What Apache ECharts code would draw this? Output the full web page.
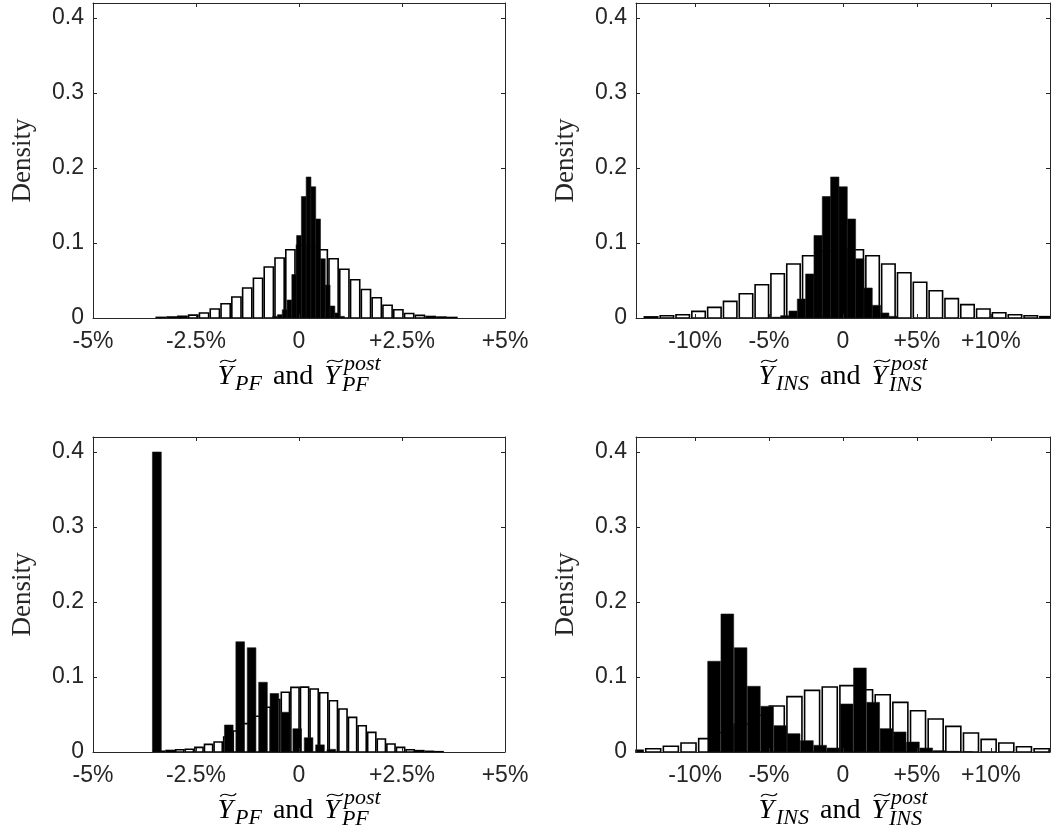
<!DOCTYPE html>
<html><head><meta charset="utf-8">
<script src="https://cdn.jsdelivr.net/npm/echarts@6/dist/echarts.min.js"></script>
<style>html,body{margin:0;padding:0;background:#fff}#c{width:1051px;height:833px}</style>
</head><body><div id="c"></div>
<script>
// ---------- tick labels ----------
const pfTickVals = [-5, -2.5, 0, 2.5, 5];
const pfTickLabels = ['-5%', '-2.5%', '0', '+2.5%', '+5%'];
const insTickVals = [-10, -5, 0, 5, 10];
const insTickLabels = ['-10%', '-5%', '0', '+5%', '+10%'];
const densityTickVals = [0, 0.1, 0.2, 0.3, 0.4];
const densityTickLabels = ['0', '0.1', '0.2', '0.3', '0.4'];
const pfRange = [-5, 5];
const insRange = [-14, 14];
const densityMax = 0.42;

// ---------- histogram data (bin start = first bin centre in %, bin width in %) ----------
// top-left: Y_PF (white) and Y_PF^post (black)
const tlWhiteStart = -3.353, tlWhiteStep = 0.262;
const tlWhite = [0.0008,0.0013,0.0022,0.0038,0.0067,0.012,0.019,0.028,0.040,0.053,0.068,0.080,0.091,0.097,0.096,0.091,0.079,0.065,0.051,0.038,0.027,0.017,0.011,0.006,0.0035,0.002,0.0012,0.0007];
const tlBlackStart = -0.58, tlBlackStep = 0.116;
const tlBlack = [0.0022,0.0044,0.011,0.024,0.058,0.110,0.162,0.188,0.175,0.132,0.079,0.044,0.016,0.0067,0.0022];

// top-right: Y_INS (white) and Y_INS^post (black)
const trWhiteStart = -12.98, trWhiteStep = 1.07;
const trWhite = [0.0015,0.003,0.0044,0.0089,0.0142,0.0222,0.0324,0.0444,0.0591,0.072,0.083,0.089,0.093,0.0911,0.083,0.072,0.0604,0.0476,0.0364,0.0258,0.0178,0.012,0.0071,0.0044,0.0031,0.0018];
const trBlackStart = -4.50, trBlackStep = 0.5635;
const trBlack = [0.001,0.0031,0.0093,0.0253,0.0587,0.110,0.162,0.188,0.175,0.132,0.079,0.040,0.0169,0.0067,0.0022];

// bottom-left
const blWhiteStart = -3.36, blWhiteStep = 0.233;
const blWhite = [0.001,0.002,0.003,0.0036,0.0062,0.0102,0.0133,0.020,0.028,0.0378,0.0476,0.0596,0.070,0.0796,0.0862,0.0865,0.084,0.079,0.0684,0.0573,0.0462,0.0351,0.0262,0.0173,0.0107,0.0062,0.0031,0.0018,0.0009,0.0004];
const blBlackStart = -1.704, blBlackStep = 0.2767;
const blBlack = [0.036,0.147,0.139,0.093,0.078,0.053,0.031,0.019,0.0095,0.0036,0.001];
const blSpikeStart = -3.45, blSpikeStep = 0.24;
const blSpike = [0.40];

// bottom-right
const brWhiteStart = -14.03, brWhiteStep = 1.194;
const brWhite = [0.0022,0.0044,0.0076,0.012,0.0178,0.026,0.037,0.049,0.0613,0.0738,0.0822,0.0867,0.0885,0.0831,0.0764,0.0662,0.0551,0.044,0.0342,0.0253,0.0169,0.012,0.0071,0.0044];
const brBlackStart = -8.72, brBlackStep = 0.8967;
const brBlack = [0.121,0.184,0.139,0.0876,0.0609,0.0351,0.0244,0.0151,0.0089,0.0053,0.064,0.112,0.0662,0.0311,0.0267,0.0133,0.0053,0.0018,0.0009,0.0004];

// ---------- layout ----------
const AX = '#262626';
const SANS = '"Liberation Sans", Arial, Helvetica, sans-serif';
const SERIF = '"Liberation Serif", "Times New Roman", serif';
const layout = [
  {left: 93, top: 3, width: 412, height: 315},
  {left: 636, top: 3, width: 414, height: 315},
  {left: 93, top: 437, width: 412, height: 315},
  {left: 636, top: 437, width: 414, height: 315}
];
const panels = [
  {range: pfRange, ticks: pfTickVals, labels: pfTickLabels, sub: 'PF',
   sets: [[tlWhiteStart, tlWhiteStep, tlWhite, 'w'], [tlBlackStart, tlBlackStep, tlBlack, 'b', 1.0]]},
  {range: insRange, ticks: insTickVals, labels: insTickLabels, sub: 'INS',
   sets: [[trWhiteStart, trWhiteStep, trWhite, 'w'], [trBlackStart, trBlackStep, trBlack, 'b', 1.0]]},
  {range: pfRange, ticks: pfTickVals, labels: pfTickLabels, sub: 'PF',
   sets: [[blWhiteStart, blWhiteStep, blWhite, 'w'], [blBlackStart, blBlackStep, blBlack, 'b', 0.76], [blSpikeStart, blSpikeStep, blSpike, 'b', 0.9]]},
  {range: insRange, ticks: insTickVals, labels: insTickLabels, sub: 'INS',
   sets: [[brWhiteStart, brWhiteStep, brWhite, 'w'], [brBlackStart, brBlackStep, brBlack, 'b', 0.96]]}
];

function fmt(vals, labels) {
  return function (v) {
    const i = vals.findIndex(t => Math.abs(t - v) < 1e-9);
    return i < 0 ? '' : labels[i];
  };
}

function binSeries(gi, start, step, vals, kind, frac) {
  const white = kind === 'w';
  const f = white ? 0.85 : frac;
  return {
    type: 'custom', coordinateSystem: 'cartesian2d',
    xAxisIndex: gi * 2, yAxisIndex: gi * 2, z: white ? 2 : 3,
    silent: true, animation: false,
    data: vals.map((v, i) => [start + i * step, v]),
    renderItem: function (params, api) {
      const c = api.value(0), h = api.value(1);
      const a = api.coord([c - step * f / 2, h]);
      const b = api.coord([c + step * f / 2, 0]);
      const cs = params.coordSys;
      const r = echarts.graphic.clipRectByRect(
        {x: a[0], y: a[1], width: b[0] - a[0], height: b[1] - a[1]},
        {x: cs.x, y: cs.y, width: cs.width, height: cs.height});
      if (!r) return null;
      return {type: 'rect', shape: r,
        style: white ? {fill: '#fff', stroke: '#000', lineWidth: 1.6}
                     : {fill: '#000', stroke: '#1a1a1a', lineWidth: 0.6}};
    }
  };
}

function mathLabel(g, sub) {
  const cx = g.left + g.width / 2, base = g.top + g.height + 68;
  const BIG = 28, SM = 22;
  const fY = 'italic ' + BIG + 'px ' + SERIF, fR = BIG + 'px ' + SERIF, fS = 'italic ' + SM + 'px ' + SERIF;
  const ctx = document.createElement('canvas').getContext('2d');
  const mw = (t, f) => { ctx.font = f; return ctx.measureText(t).width; };
  const wY = mw('Y', fY) + 2;
  const wSub = mw(sub, fS), wSup = mw('post', fS) + 2, wAnd = mw('and', fR), gap = 11;
  const total = wY + wSub + gap + wAnd + gap + wY + Math.max(wSub, wSup);
  let x = cx - total / 2;
  const els = [];
  const T = (t, f, size, xx, b) => ({type: 'text', x: xx, y: b - 0.34 * size, silent: true,
    style: {text: t, font: f, fill: '#000', align: 'left', verticalAlign: 'middle', textAlign: 'left', textVerticalAlign: 'middle'}});
  const tilde = (xc, yc, w) => ({type: 'bezierCurve', silent: true,
    shape: {x1: xc - w / 2, y1: yc + 1.5, x2: xc + w / 2, y2: yc - 1.5,
            cpx1: xc - w * 0.15, cpy1: yc - 5, cpx2: xc + w * 0.15, cpy2: yc + 5},
    style: {stroke: '#000', lineWidth: 1.3, fill: null}});
  els.push(T('Y', fY, BIG, x, base)); els.push(tilde(x + wY / 2 + 2, base - 25, 16));
  x += wY; els.push(T(sub, fS, SM, x, base + 6)); x += wSub + gap;
  els.push(T('and', fR, BIG, x, base)); x += wAnd + gap;
  els.push(T('Y', fY, BIG, x, base)); els.push(tilde(x + wY / 2 + 2, base - 25, 16));
  x += wY; els.push(T('post', fS, SM, x + 2, base - 14)); els.push(T(sub, fS, SM, x, base + 7));
  return els;
}

const option = {animation: false, grid: [], xAxis: [], yAxis: [], series: [], graphic: {elements: []}};
panels.forEach((p, i) => {
  const g = layout[i];
  option.grid.push({left: g.left, top: g.top, width: g.width, height: g.height, containLabel: false});
  ['bottom', 'top'].forEach(pos => {
    option.xAxis.push({gridIndex: i, type: 'value', min: p.range[0], max: p.range[1], position: pos, z: 10,
      axisLine: {show: true, onZero: false, lineStyle: {color: AX, width: 1}},
      axisTick: {show: true, inside: true, length: 4, customValues: p.ticks, lineStyle: {color: AX}},
      axisLabel: {show: pos === 'bottom', customValues: p.ticks, formatter: fmt(p.ticks, p.labels),
        color: AX, fontSize: 23, fontFamily: SANS, margin: 12},
      splitLine: {show: false}});
  });
  ['left', 'right'].forEach(pos => {
    option.yAxis.push({gridIndex: i, type: 'value', min: 0, max: densityMax, position: pos, z: 10,
      name: pos === 'left' ? 'Density' : '', nameLocation: 'middle', nameGap: 57,
      nameTextStyle: {fontFamily: SERIF, fontSize: 27, color: AX},
      axisLine: {show: true, onZero: false, lineStyle: {color: AX, width: 1}},
      axisTick: {show: true, inside: true, length: 4, customValues: densityTickVals, lineStyle: {color: AX}},
      axisLabel: {show: pos === 'left', customValues: densityTickVals, formatter: fmt(densityTickVals, densityTickLabels),
        color: AX, fontSize: 23, fontFamily: SANS, margin: 9},
      splitLine: {show: false}});
  });
  p.sets.forEach(s => option.series.push(binSeries(i, s[0], s[1], s[2], s[3], s[4])));
  option.graphic.elements.push(...mathLabel(g, p.sub));
});

const chart = echarts.init(document.getElementById('c'), null, {renderer: 'canvas'});
chart.setOption(option);
</script></body></html>
